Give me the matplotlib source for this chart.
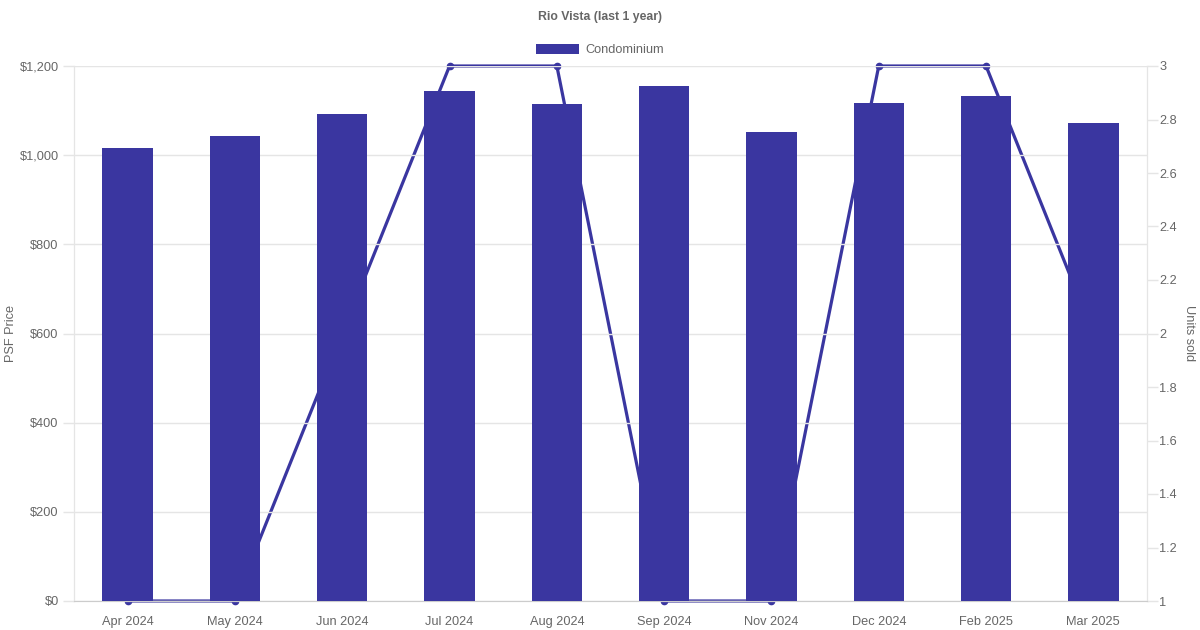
import matplotlib.pyplot as plt
from matplotlib.patches import Patch
from matplotlib.ticker import FuncFormatter, MultipleLocator

plt.rcParams['font.family'] = ['Liberation Sans', 'DejaVu Sans']

# Data
months = ['Apr 2024', 'May 2024', 'Jun 2024', 'Jul 2024', 'Aug 2024',
          'Sep 2024', 'Nov 2024', 'Dec 2024', 'Feb 2025', 'Mar 2025']
psf_price = [1016, 1043, 1092, 1144, 1115, 1155, 1052, 1117, 1133, 1072]
units_sold = [1, 1, 2, 3, 3, 1, 1, 3, 3, 2]

bar_color = '#3a36a0'
text_color = '#666666'
grid_color = '#e5e5e5'

fig = plt.figure(figsize=(12, 6.3), dpi=100)
ax = fig.add_axes([74 / 1200, 1 - 601 / 630, (1147 - 74) / 1200, (601 - 66) / 630])
ax2 = ax.twinx()

x = list(range(len(months)))
ax.bar(x, psf_price, width=0.47, color=bar_color, zorder=3)
ax2.plot(x, units_sold, color=bar_color, lw=2.3, marker='o', ms=4.5,
         clip_on=False, zorder=2)

# bars drawn over the line
ax.set_zorder(ax2.get_zorder() + 1)
ax.patch.set_visible(False)

ax.set_xlim(-0.5, len(months) - 0.5)
ax.set_ylim(0, 1200)
ax.yaxis.set_major_locator(MultipleLocator(200))
ax.yaxis.set_major_formatter(FuncFormatter(lambda v, p: f'${v:,.0f}'))
ax2.set_ylim(1, 3)
ax2.yaxis.set_major_locator(MultipleLocator(0.2))
ax2.yaxis.set_major_formatter(FuncFormatter(lambda v, p: f'{v:g}'))

ax.set_xticks(x)
ax.set_xticklabels(months)
ax.grid(axis='y', color=grid_color, lw=1, zorder=0)

for a in (ax, ax2):
    a.tick_params(colors=text_color, labelsize=9.2, length=8, width=1)
    a.tick_params(axis='both', color=grid_color)
    for s in a.spines.values():
        s.set_color(grid_color)
    a.spines['top'].set_visible(False)
ax.spines['bottom'].set_color('#cccccc')
ax.tick_params(axis='x', length=0, pad=11)
ax.tick_params(axis='y', pad=3)
ax2.tick_params(axis='y', pad=1)

fig.text(11 / 1200, 1 - 333 / 630, 'PSF Price', rotation=90, ha='center', va='center',
         color=text_color, fontsize=9.2)
fig.text(1189 / 1200, 1 - 333 / 630, 'Units sold', rotation=270, ha='center', va='center',
         color=text_color, fontsize=9.2)

fig.text(0.5, 1 - 17 / 630, 'Rio Vista (last 1 year)', ha='center', va='center',
         fontsize=8.8, fontweight='bold', color=text_color)
fig.legend(handles=[Patch(facecolor=bar_color, label='Condominium')],
           loc='center', bbox_to_anchor=(0.5, 1 - 50 / 630), frameon=False,
           fontsize=9.2, labelcolor=text_color, handlelength=3.3, handleheight=0.9,
           handletextpad=0.5)

fig.savefig('out.png', dpi=100)
